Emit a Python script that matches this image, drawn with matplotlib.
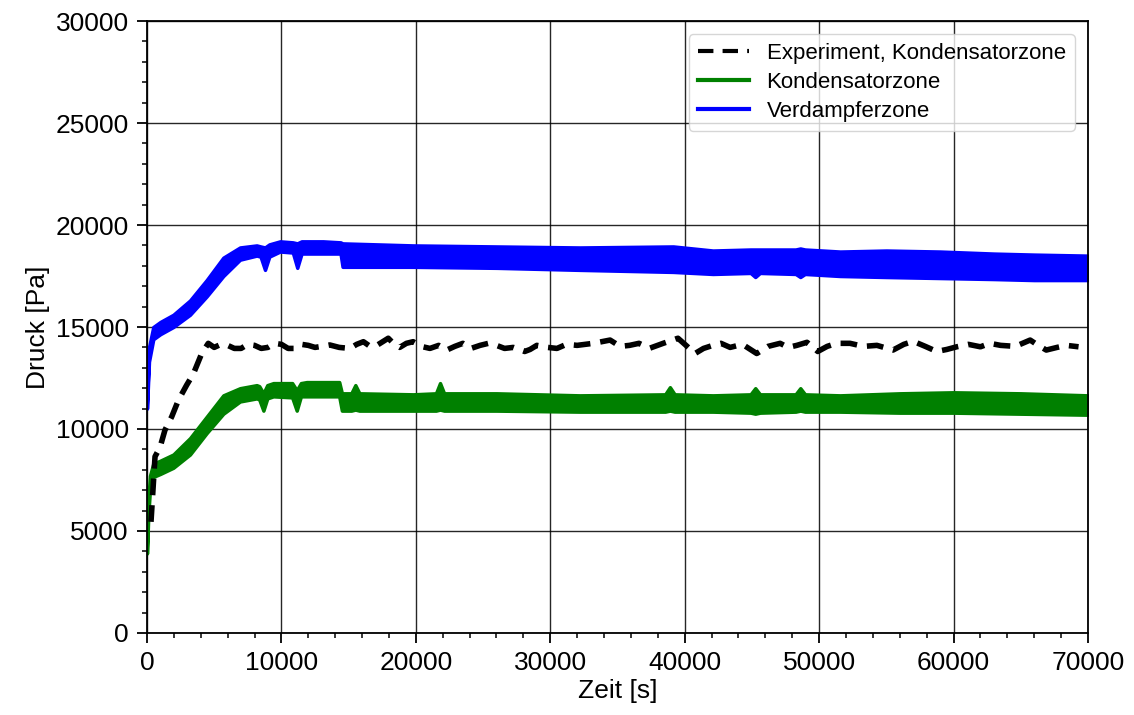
import numpy as np
import matplotlib
matplotlib.use('Agg')
import matplotlib.pyplot as plt
from matplotlib.ticker import MultipleLocator
from matplotlib.lines import Line2D

plt.rcParams['font.family'] = ['Liberation Sans', 'DejaVu Sans']

# Experiment, Kondensatorzone
exp_t = [300, 600, 970, 1340, 1840, 2330, 2950, 3450, 4070, 4560, 5000, 5500, 6000, 6500, 7000, 7500, 8000,
         8500, 9000, 9500, 10000, 10500, 11000, 11500, 12000, 12500, 13000, 13600, 14300, 15100, 15600,
         16100, 16600, 17100, 17950, 18400, 18800, 19300, 19800, 20400, 21050, 21700, 22300, 22900,
         23500, 24100, 24780, 25400, 26000, 26600, 27250, 28100, 28500, 29000, 29800, 30500, 31200,
         32000, 33200, 34450, 35200, 35900, 36600, 37400, 38400, 39500, 40100, 40770, 41400, 42100,
         42700, 43380, 44300, 45360, 46200, 47100, 47700, 48340, 49100, 49900, 50600, 51300, 52300,
         53300, 54300, 55500, 56300, 57000, 57900, 58750, 59500, 60240, 61100, 62000, 62700, 63500,
         64600, 65700, 66300, 66900, 67700, 68400, 69300]
exp_p = [5450, 8650, 9100, 9950, 10600, 11400, 12150, 12700, 13700, 14200, 14000, 14150, 14100, 13950, 13950, 14150, 14100,
         13950, 14000, 14200, 14150, 13950, 13950, 14150, 14100, 14000, 14050, 14120, 14000, 13950, 14150,
         14280, 14050, 14100, 14450, 14150, 14000, 14200, 14280, 14050, 13950, 14100, 13870, 14050,
         14200, 13950, 14100, 14200, 14100, 13950, 14000, 13800, 13900, 14100, 14000, 13950, 14150,
         14100, 14200, 14360, 14050, 14100, 14200, 13960, 14200, 14450, 14100, 13700, 13950, 14100,
         14200, 14000, 14150, 13700, 14050, 14200, 14000, 14100, 14250, 13800, 14050, 14200, 14200,
         14050, 14100, 13870, 14150, 14300, 14050, 13800, 13900, 14030, 14150, 14030, 14200, 14100,
         14050, 14360, 14100, 13870, 14000, 14100, 14030]

# Kondensatorzone (simulation, band of the oscillating signal)
kond_t = [0, 100, 220, 470, 1000, 1960, 3200, 4440, 5680, 6920, 8160, 8350, 8660, 8950,
          9400, 10800, 11140, 11450, 11880, 14300, 14500, 15200, 15500, 15800, 19800, 21500,
          21800, 22100, 26000, 32200, 38550, 38900, 39250, 42100, 44900, 45250, 45600, 48250,
          48600, 48950, 51560, 56000, 60000, 65000, 70000]
kond_lo = [3900, 5800, 7000, 7650, 7800, 8100, 8750, 9800, 10750, 11350, 11500, 11450, 10900, 11500,
           11600, 11550, 10900, 11600, 11600, 11600, 10900, 10900, 10950, 10900, 10900, 10900,
           10950, 10900, 10900, 10850, 10850, 10900, 10850, 10850, 10800, 10750, 10800, 10850,
           10900, 10850, 10850, 10800, 10800, 10750, 10700]
kond_hi = [4200, 6500, 7700, 8300, 8450, 8750, 9550, 10600, 11650, 12000, 12150, 12100, 11750, 12150,
           12250, 12250, 11900, 12250, 12300, 12300, 11750, 11750, 12150, 11750, 11700, 11750,
           12250, 11750, 11750, 11650, 11700, 12050, 11700, 11650, 11700, 12000, 11700, 11700,
           12000, 11700, 11650, 11750, 11800, 11750, 11650]

# Verdampferzone (simulation, band of the oscillating signal)
verd_t = [0, 150, 470, 1000, 1960, 3200, 4440, 5680, 6920, 8160, 8450, 8780, 9100, 9900,
          10850, 11180, 11500, 13100, 14400, 14550, 19800, 26000, 32200, 39150, 42100, 44900,
          45250, 45600, 48250, 48600, 48950, 51560, 55000, 59000, 63000, 66000, 70000]
verd_lo = [11000, 13300, 14400, 14650, 15000, 15600, 16500, 17500, 18300, 18500, 18450, 17800, 18450, 18700,
           18650, 17900, 18600, 18600, 18600, 17950, 17950, 17900, 17800, 17700, 17600, 17650,
           17450, 17650, 17600, 17450, 17600, 17500, 17450, 17400, 17350, 17300, 17300]
verd_hi = [11200, 14000, 15000, 15250, 15600, 16300, 17300, 18400, 18900, 19000, 18950, 18900, 19050, 19200,
           19150, 19100, 19200, 19200, 19150, 19100, 19000, 18950, 18900, 18950, 18750, 18800,
           18800, 18800, 18800, 18850, 18800, 18700, 18750, 18700, 18600, 18550, 18500]

fig = plt.figure(figsize=(11.34, 7.15), dpi=100)
ax = fig.add_axes([0.1296, 0.1147, 0.8298, 0.8559])

ax.fill_between(kond_t, kond_lo, kond_hi, color='green', lw=2.5, edgecolor='green',
                joinstyle='round', zorder=2)
ax.fill_between(verd_t, verd_lo, verd_hi, color='blue', lw=2.5, edgecolor='blue',
                joinstyle='round', zorder=2)
ax.plot(exp_t, exp_p, color='black', lw=4, ls='--', dashes=(3.0, 1.8), zorder=3)

handles = [
    Line2D([], [], color='black', lw=3, ls='--', dashes=(3.7, 2.2)),
    Line2D([], [], color='green', lw=3),
    Line2D([], [], color='blue', lw=3),
]
labels = ['Experiment, Kondensatorzone', 'Kondensatorzone', 'Verdampferzone']
ax.legend(handles, labels, loc='upper right', fontsize=16, handlelength=2.3,
          borderaxespad=0.6, labelspacing=0.35, framealpha=0.8)

ax.set_xlim(0, 70000)
ax.set_ylim(0, 30000)
ax.xaxis.set_major_locator(MultipleLocator(10000))
ax.xaxis.set_minor_locator(MultipleLocator(2000))
ax.yaxis.set_major_locator(MultipleLocator(5000))
ax.yaxis.set_minor_locator(MultipleLocator(1000))
ax.tick_params(which='major', length=7, width=1.3, labelsize=19, pad=6)
ax.tick_params(which='minor', length=3.5, width=1.1)
for s in ax.spines.values():
    s.set_linewidth(1.3)

ax.set_axisbelow(True)
ax.grid(True, which='major', color='black', lw=1.0, alpha=0.85)

ax.set_xlabel('Zeit [s]', fontsize=19, labelpad=3)
ax.set_ylabel('Druck [Pa]', fontsize=19, labelpad=4)

fig.savefig('out.png', dpi=100)
